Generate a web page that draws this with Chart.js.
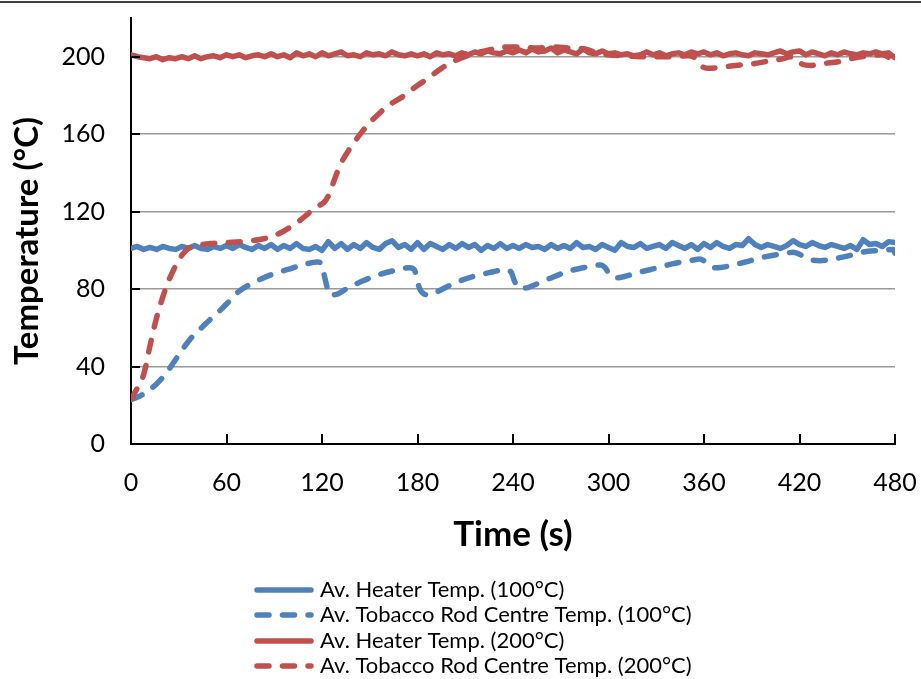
<!DOCTYPE html>
<html>
<head>
<meta charset="utf-8">
<script src="https://cdn.jsdelivr.net/npm/chart.js@4.4.1/dist/chart.umd.min.js"></script>
<style>
  html, body { margin: 0; padding: 0; background: #fff; }
  #wrap { position: relative; width: 921px; height: 679px; }
</style>
</head>
<body>
<div id="wrap"><canvas id="chart"></canvas></div>
<script>
// time base of the heater logs (s)
const heaterTime = [0,4,8,12,16,20,24,28,32,36,40,44,48,52,56,60,64,68,72,76,80,84,88,92,96,100,104,108,112,116,120,
  124,128,132,136,140,144,148,152,156,160,164,168,172,176,180,184,188,192,196,200,204,208,212,216,220,224,228,232,236,240,
  244,248,252,256,260,264,268,272,276,280,284,288,292,296,300,304,308,312,316,320,324,328,332,336,340,344,348,352,356,360,
  364,368,372,376,380,384,388,392,396,400,404,408,412,416,420,424,428,432,436,440,444,448,452,456,460,464,468,472,476,480];

const heater100 = [101,102,100.5,101.5,100.5,102,101,100.5,102,101,102.5,101,100.5,102,101,102.5,
  101,103,101.5,100.5,102.5,101,103,100.5,102.5,101,103.5,101,100.5,102,100,
  104.5,101,103.5,100.5,103,101,104,101.5,100.5,103.5,105,101.5,103,100.5,104,
  100.5,103.5,102,100.5,103,101,103.5,101.5,103,100,102.5,101,103.5,101,102.5,
  101,103,101.5,102,100.5,103,101,102.5,101,104,101.5,102,100.5,103,101.5,
  100,104,102,101.5,103.5,101,102,103,101,104,102.5,101,103,100.5,103.5,
  101.5,104,102,101,103,102.5,106,103,101.5,103,102,101,102.5,105,103,
  102,104,102.5,101.5,103,102,101,102.5,100.5,105.5,103,103.5,102,104.5,104];

const heater200 = [201,200,199.5,199,200,198.5,199.5,199,200,199,200.5,199,200,200.5,199.5,201,
  200,201,199.5,200.5,201,200,201.5,200,201,199.5,202,200.5,201.5,200,202,
  200.5,201.5,202.5,200.5,201,200,202,201,201.5,200.5,202.5,201,200.5,201.5,200.5,
  201.5,200,202,201,201.5,200.5,202,201,202.5,201.5,203,202,201.5,203,202,
  203.5,202,204,202.5,203,204.5,202,203.5,202.5,201.5,204,202,201.5,203,201.5,
  202,201,201.5,200.5,201,202.5,201,202,200.5,201.5,202,201,202.5,201.5,202.5,
  201,202,200.5,201.5,202,201,200.5,202,201.5,201,202,203,201.5,202.5,203,
  201,202.5,201.5,200.5,202,201,202.5,201.5,201,202,201.5,202.5,201.5,202,199.5];

const rod100Time = [0,5,10,16,22,30,37,43,50,56,62,68,75,81,90,98,108,117,120,122,125,130,136,145,154,165,175,178,181,184,
  187,192,198,206,215,225,236,239,241,244,248,253,263,274,284,295,298,301,305,310,318,326,340,353,357,361,364,368,374,
  386,399,410,416,420,424,428,433,447,462,472,479,480];
const rod100 = [23,24.5,27,31,36.5,46,54,59,64.5,69,74,79,82.5,85,88,90,92.5,94,92.5,85,77,77.5,80.5,84,87,89.5,91,90,81,77.5,
  77,78.5,81,84,86.5,88.5,90,88.5,84,80.5,80.5,82,85.5,89,91,92.5,91,87,85.8,86.5,88.5,90,93,95,95.5,94,91.5,91,91.6,
  94,96.8,98.3,99,98,96,95,94.7,96.5,99.4,100,100.5,98.5];

const rod200Time = [0,4,8,12,16,20,24,28,32,36,42,50,60,70,80,88,95,101,107,112,116,119,122,125,128,132,137,144,150,155,
  162,170,178,186,195,205,215,225,235,245,255,265,275,285,293,300,310,320,330,340,350,355,358,362,370,380,392,402,410,
  414,418,422,427,435,445,455,465,472,480];
const rod200 = [23,29,36,51,65,76,85,92,97.5,101,102.5,103.5,104,104.5,105.5,107,109.5,112.5,116,119.5,122,123.5,125.5,130,137,145,152,160,166,170,
  175,179,184,188.5,194,198.5,201.5,203.5,205,205,204.5,205,204.5,204,202,201,200.5,200,200,200,200.5,199,195.5,194,194.5,195.5,196.5,198,199,
  200,199,196,195.5,196.5,197.5,199.5,200.5,201,197.5];

const seriesLabels = [
  'Av. Heater Temp. (100°C)',
  'Av. Tobacco Rod Centre Temp. (100°C)',
  'Av. Heater Temp. (200°C)',
  'Av. Tobacco Rod Centre Temp. (200°C)'
];
const xTicks = [0, 60, 120, 180, 240, 300, 360, 420, 480];
const yTicks = [0, 40, 80, 120, 160, 200];

const BLUE = '#4f81bd';
const RED = '#c0504d';
const DASH = [12, 13.5];
const LW = 5.5;
const FONT = 'Lato, "Open Sans", sans-serif';

const pairs = (xs, ys) => xs.map((t, i) => ({ x: t, y: ys[i] }));

function lineSet(label, data, color, dashed, order) {
  return {
    label, data, order,
    borderColor: color,
    backgroundColor: color,
    borderWidth: LW,
    borderDash: dashed ? DASH : [],
    borderCapStyle: 'round',
    borderJoinStyle: 'round',
    cubicInterpolationMode: dashed ? 'monotone' : 'default',
    tension: 0,
    pointRadius: 0,
    fill: false
  };
}

// no label overhang padding, the plot box is set by layout padding
function noOverhang(s) {
  s.paddingTop = 0; s.paddingBottom = 0; s.paddingLeft = 0; s.paddingRight = 0;
}

// inner tick marks, top rule, y title and the stacked legend
const extras = {
  id: 'extras',
  afterDraw(chart) {
    const ctx = chart.ctx;
    const area = chart.chartArea;
    const xs = chart.scales.x, ys = chart.scales.y;
    ctx.save();
    ctx.strokeStyle = '#000';
    ctx.lineWidth = 2;
    xTicks.forEach(v => {
      const px = Math.round(xs.getPixelForValue(v));
      ctx.beginPath(); ctx.moveTo(px, area.bottom); ctx.lineTo(px, area.bottom - 10); ctx.stroke();
    });
    yTicks.forEach(v => {
      const py = Math.round(ys.getPixelForValue(v));
      ctx.beginPath(); ctx.moveTo(area.left, py); ctx.lineTo(area.left + 9, py); ctx.stroke();
    });

    ctx.strokeStyle = '#404040';
    ctx.beginPath(); ctx.moveTo(0, 2); ctx.lineTo(chart.width, 2); ctx.stroke();

    // y axis title
    ctx.save();
    ctx.translate(27, 241);
    ctx.rotate(-Math.PI / 2);
    ctx.font = 'bold 33px ' + FONT;
    ctx.fillStyle = '#000';
    ctx.textAlign = 'center';
    ctx.textBaseline = 'middle';
    ctx.fillText('Temperature (°C)', 0, 0);
    ctx.restore();

    // legend
    const rowY = [590, 615, 641, 666];
    ctx.font = '22px ' + FONT;
    ctx.textBaseline = 'middle';
    ctx.textAlign = 'left';
    chart.data.datasets.forEach((ds, i) => {
      const y = rowY[i];
      ctx.strokeStyle = ds.borderColor;
      ctx.lineWidth = LW;
      ctx.lineCap = 'round';
      ctx.setLineDash(ds.borderDash);
      ctx.beginPath(); ctx.moveTo(257, y); ctx.lineTo(311, y); ctx.stroke();
      ctx.setLineDash([]);
      ctx.fillStyle = '#000';
      ctx.fillText(ds.label, 320, y);
    });
    ctx.restore();
  }
};

new Chart(document.getElementById('chart'), {
  type: 'line',
  data: {
    datasets: [
      lineSet(seriesLabels[0], pairs(heaterTime, heater100), BLUE, false, 4),
      lineSet(seriesLabels[1], pairs(rod100Time, rod100), BLUE, true, 3),
      lineSet(seriesLabels[2], pairs(heaterTime, heater200), RED, false, 2),
      lineSet(seriesLabels[3], pairs(rod200Time, rod200), RED, true, 1)
    ]
  },
  options: {
    responsive: true,
    maintainAspectRatio: false,
    animation: false,
    layout: { padding: { top: 18, right: 26, bottom: 0, left: 0 } },
    plugins: {
      legend: { display: false },
      tooltip: { enabled: false }
    },
    scales: {
      x: {
        type: 'linear',
        min: 0, max: 480,
        afterBuildTicks: s => { s.ticks = xTicks.map(v => ({ value: v })); },
        afterFit: s => { s.height = 235; noOverhang(s); },
        ticks: { color: '#000', font: { family: FONT, size: 25 }, padding: 24, maxRotation: 0 },
        grid: { display: false, drawTicks: false },
        border: { display: true, color: '#000', width: 2 },
        title: {
          display: true, text: 'Time (s)', color: '#000',
          font: { family: FONT, size: 35, weight: 'bold' },
          padding: { top: 0, bottom: 123 }
        }
      },
      y: {
        min: 0, max: 220,
        afterBuildTicks: s => { s.ticks = yTicks.map(v => ({ value: v })); },
        afterFit: s => { s.width = 131; noOverhang(s); },
        ticks: { color: '#000', font: { family: FONT, size: 25 }, padding: 26 },
        grid: { color: '#9a9a9a', lineWidth: 1.5, drawTicks: false },
        border: { display: true, color: '#000', width: 2 },
        title: { display: false }
      }
    }
  },
  plugins: [extras]
});
</script>
</body>
</html>
